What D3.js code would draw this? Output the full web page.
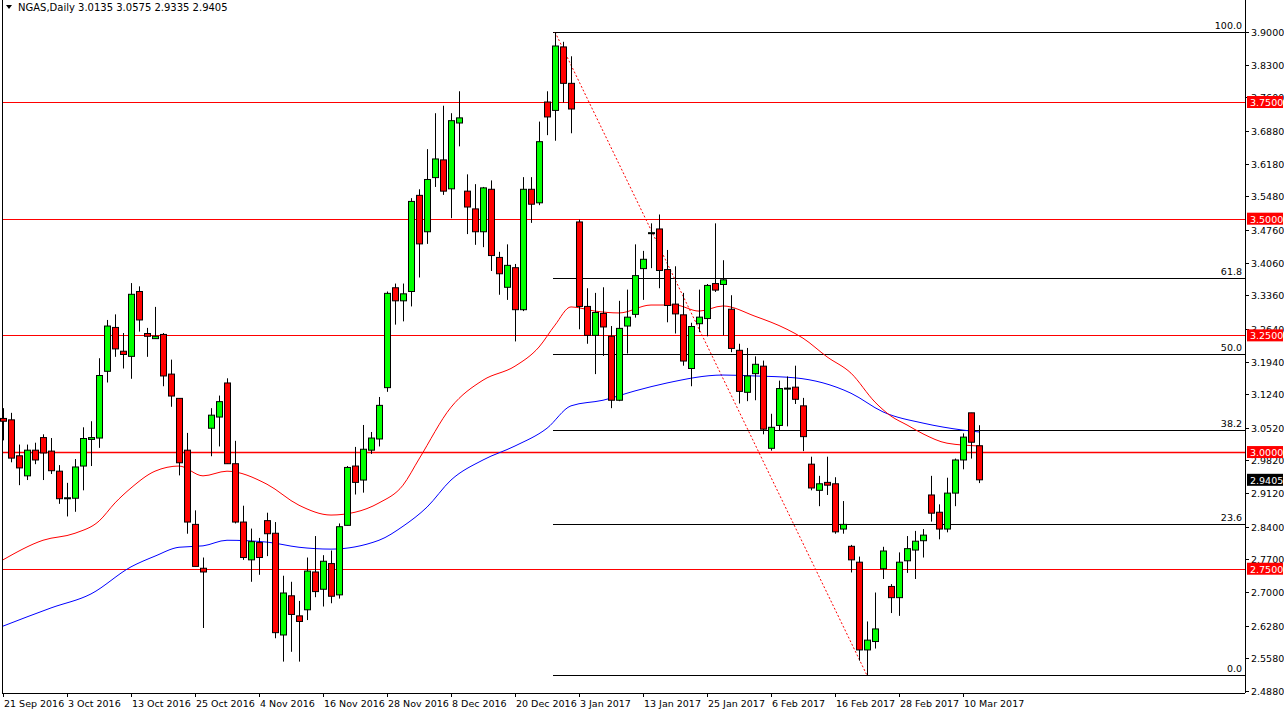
<!DOCTYPE html>
<html>
<head>
<meta charset="utf-8">
<script src="https://cdn.jsdelivr.net/npm/d3@7"></script>
<style>
  body { margin: 0; background: #fff; }
  text { font-family: "DejaVu Sans", sans-serif; }
</style>
</head>
<body>
<svg id="chart" width="1284" height="717"></svg>
<script>
// daily candles NGAS, 21 Sep 2016 .. 14 Mar 2017
var opens = [3.072,3.069,2.992,2.949,3.004,3.031,3.002,2.959,2.901,2.901,2.970,3.027,3.030,3.173,3.267,3.216,3.205,3.344,3.254,3.243,
  3.252,3.167,3.115,3.004,2.845,2.751,3.051,3.075,3.148,2.975,2.850,2.769,2.806,2.853,2.826,2.608,2.692,2.649,2.662,2.743,
  2.706,2.761,2.694,2.843,2.970,2.940,3.004,3.028,3.138,3.352,3.324,3.344,3.550,3.472,3.588,3.626,3.564,3.705,3.559,3.521,
  3.472,3.563,3.417,3.353,3.395,3.305,3.563,3.534,3.750,3.732,3.868,3.790,3.493,3.312,3.250,3.297,3.248,3.111,3.270,3.295,
  3.393,3.469,3.478,3.391,3.317,3.294,3.179,3.275,3.286,3.361,3.359,3.306,3.218,3.128,3.168,3.184,3.008,3.057,3.136,3.139,
  3.099,2.974,2.918,2.935,2.932,2.835,2.798,2.764,2.576,2.594,2.750,2.712,2.688,2.767,2.790,2.810,2.908,2.871,2.835,2.912,
  2.983,3.084,3.0135];
var highs = [3.094,3.084,3.016,3.016,3.020,3.038,3.030,2.972,2.934,2.985,3.053,3.066,3.201,3.283,3.295,3.255,3.362,3.355,3.266,3.311,
  3.255,3.198,3.115,3.041,2.875,2.774,3.094,3.121,3.158,3.024,2.885,2.836,2.816,2.870,2.850,2.735,2.722,2.681,2.774,2.820,
  2.779,2.789,2.847,2.970,3.011,3.058,3.043,3.118,3.344,3.361,3.361,3.544,3.563,3.649,3.726,3.742,3.726,3.773,3.595,3.574,
  3.568,3.582,3.429,3.445,3.403,3.589,3.589,3.708,3.773,3.900,3.879,3.848,3.498,3.351,3.341,3.353,3.270,3.324,3.348,3.445,
  3.431,3.490,3.509,3.433,3.398,3.341,3.277,3.348,3.360,3.490,3.411,3.336,3.232,3.223,3.205,3.196,3.082,3.153,3.162,3.185,
  3.116,2.990,2.949,2.990,2.946,2.895,2.801,2.776,2.637,2.699,2.797,2.717,2.785,2.820,2.831,2.835,2.949,2.888,2.945,2.986,
  3.040,3.084,3.0575];
var lows = [3.025,2.978,2.929,2.940,2.974,2.940,2.953,2.889,2.862,2.872,2.918,2.970,3.009,3.149,3.204,3.179,3.157,3.258,3.204,3.243,
  3.141,3.097,2.950,2.825,2.755,2.623,2.991,3.012,2.975,2.847,2.769,2.722,2.737,2.777,2.601,2.551,2.572,2.551,2.640,2.689,
  2.669,2.676,2.686,2.843,2.909,2.913,2.996,3.012,3.129,3.273,3.280,3.312,3.374,3.446,3.568,3.551,3.501,3.655,3.467,3.444,
  3.439,3.388,3.337,3.326,3.237,3.302,3.491,3.529,3.679,3.667,3.749,3.683,3.263,3.232,3.167,3.206,3.094,3.109,3.211,3.288,
  3.326,3.394,3.351,3.278,3.254,3.185,3.141,3.257,3.248,3.343,3.250,3.214,3.104,3.109,3.111,3.038,3.003,3.045,3.055,3.103,
  3.002,2.918,2.884,2.908,2.825,2.825,2.742,2.553,2.5215,2.579,2.728,2.655,2.649,2.741,2.728,2.774,2.851,2.813,2.828,2.884,
  2.963,2.986,2.9335];
var closes = [3.066,2.987,2.966,3.004,2.983,2.998,2.960,2.900,2.902,2.968,3.029,3.031,3.164,3.270,3.221,3.209,3.338,3.283,3.248,3.248,
  3.163,3.120,2.977,2.850,2.755,2.743,3.079,3.108,2.975,2.850,2.774,2.808,2.774,2.825,2.613,2.698,2.652,2.637,2.745,2.701,
  2.766,2.691,2.840,2.967,2.935,3.006,3.030,3.100,3.340,3.324,3.339,3.537,3.446,3.584,3.628,3.559,3.710,3.716,3.525,3.472,
  3.566,3.421,3.382,3.400,3.305,3.563,3.531,3.665,3.718,3.870,3.790,3.735,3.312,3.250,3.299,3.268,3.111,3.265,3.289,3.378,
  3.413,3.470,3.389,3.314,3.296,3.195,3.269,3.289,3.357,3.347,3.369,3.222,3.130,3.163,3.188,3.049,3.053,3.136,3.137,3.113,
  3.033,2.923,2.932,2.929,2.829,2.845,2.769,2.576,2.597,2.621,2.788,2.688,2.764,2.793,2.809,2.822,2.869,2.835,2.912,2.983,
  3.032,3.021,2.9405];

// moving averages (bar index, value)
var maFastIdx = [0,5,9,12,14,16,19,22,25,28,33,37,41,44,47,50,52,56,60,64,67,69,71,74,77,81,84,87,90,94,98,100,103,106,109,111,113,115,118,122];
var maFast = [2.769,2.811,2.826,2.852,2.891,2.923,2.959,2.970,2.949,2.959,2.931,2.886,2.865,2.871,2.891,2.929,2.985,3.096,3.154,3.184,
  3.225,3.272,3.311,3.302,3.298,3.315,3.315,3.302,3.313,3.291,3.263,3.244,3.204,3.169,3.107,3.077,3.058,3.039,3.019,3.013];
var maSlowIdx = [0,6,11,16,19,22,25,28,33,37,41,47,50,53,56,60,64,68,71,75,79,83,90,94,99,106,110,115,120,122];
var maSlow = [2.627,2.666,2.696,2.754,2.777,2.796,2.799,2.811,2.807,2.796,2.792,2.811,2.841,2.882,2.940,2.983,3.013,3.051,3.099,3.111,
  3.131,3.148,3.165,3.163,3.159,3.126,3.086,3.062,3.047,3.043];

var priceTicks = [3.9000,3.8300,3.7600,3.6880,3.6180,3.5480,3.4760,3.4060,3.3360,3.2640,3.1940,3.1240,3.0520,2.9820,2.9120,2.8400,2.7700,2.7000,2.6280,2.5580,2.4880];
var dateLabels = ["21 Sep 2016","3 Oct 2016","13 Oct 2016","25 Oct 2016","4 Nov 2016","16 Nov 2016","28 Nov 2016","8 Dec 2016",
  "20 Dec 2016","3 Jan 2017","13 Jan 2017","25 Jan 2017","6 Feb 2017","16 Feb 2017","28 Feb 2017","10 Mar 2017"];
var levels = [3.75, 3.5, 3.25, 3.0, 2.75];
var fibLevels = [0, 23.6, 38.2, 50.0, 61.8, 100.0];
var fibHigh = 3.9000, fibLow = 2.5215, fibHighIdx = 69, fibLowIdx = 108;
var lastPrice = 2.9405;

var svg = d3.select("#chart");
var axisX = 1245, bottom = 693;

var x = d3.scaleLinear().domain([0, 122]).range([3, 979]);
var y = d3.scaleLinear().domain([2.4880, 3.9000]).range([691, 32]);

// frame
svg.append("line").attr("x1", 2.5).attr("x2", 2.5).attr("y1", 0).attr("y2", bottom).attr("stroke", "#000");
svg.append("line").attr("x1", axisX + 0.5).attr("x2", axisX + 0.5).attr("y1", 0).attr("y2", bottom).attr("stroke", "#000");
svg.append("line").attr("x1", 2).attr("x2", axisX).attr("y1", bottom + 0.5).attr("y2", bottom + 0.5).attr("stroke", "#000");

// horizontal red levels
svg.selectAll(".lvl").data(levels).enter().append("line")
  .attr("x1", 3).attr("x2", axisX)
  .attr("y1", function(d) { return Math.round(y(d)) + 0.5; })
  .attr("y2", function(d) { return Math.round(y(d)) + 0.5; })
  .attr("stroke", "#ff0000").attr("stroke-width", function(d) { return d == 3.0 ? 1.5 : 1; });

// fibonacci
var fibX0 = x(fibHighIdx) - 2;
svg.selectAll(".fib").data(fibLevels).enter().append("line")
  .attr("x1", fibX0).attr("x2", axisX)
  .attr("y1", function(d) { return Math.round(y(fibLow + (fibHigh - fibLow) * d / 100)) + 0.5; })
  .attr("y2", function(d) { return Math.round(y(fibLow + (fibHigh - fibLow) * d / 100)) + 0.5; })
  .attr("stroke", "#000");
svg.selectAll(".fibt").data(fibLevels).enter().append("text")
  .attr("x", axisX - 3)
  .attr("y", function(d) { return y(fibLow + (fibHigh - fibLow) * d / 100) - 3; })
  .attr("text-anchor", "end").attr("font-size", 9.5)
  .text(function(d) { return d.toFixed(1); });
svg.append("line")
  .attr("x1", x(fibHighIdx)).attr("y1", y(fibHigh))
  .attr("x2", x(fibLowIdx)).attr("y2", y(fibLow))
  .attr("stroke", "#ff0000").attr("stroke-dasharray", "2,2");

// moving averages
var line = d3.line().x(function(d) { return x(d[0]); }).y(function(d) { return y(d[1]); }).curve(d3.curveMonotoneX);
svg.append("path").attr("d", line(maSlowIdx.map(function(d, i) { return [d, maSlow[i]]; })))
  .attr("fill", "none").attr("stroke", "#0000ff");
svg.append("path").attr("d", line(maFastIdx.map(function(d, i) { return [d, maFast[i]]; })))
  .attr("fill", "none").attr("stroke", "#ff0000");

// candles
var bars = d3.range(opens.length);
var g = svg.append("g");
g.selectAll(".wick").data(bars).enter().append("line")
  .attr("x1", function(i) { return Math.round(x(i)) + 0.5; })
  .attr("x2", function(i) { return Math.round(x(i)) + 0.5; })
  .attr("y1", function(i) { return y(highs[i]); })
  .attr("y2", function(i) { return y(lows[i]); })
  .attr("stroke", "#000");
g.selectAll(".body").data(bars).enter().append("rect")
  .attr("x", function(i) { return Math.round(x(i)) - 2.5; })
  .attr("width", 6)
  .attr("y", function(i) { return y(Math.max(opens[i], closes[i])); })
  .attr("height", function(i) { return Math.max(1, Math.abs(y(opens[i]) - y(closes[i]))); })
  .attr("fill", function(i) { return closes[i] >= opens[i] ? "#00ff00" : "#ff0000"; })
  .attr("stroke", "#000");

// price axis
svg.selectAll(".pt").data(priceTicks).enter().append("line")
  .attr("x1", axisX).attr("x2", axisX + 4)
  .attr("y1", function(d) { return Math.round(y(d)) + 0.5; })
  .attr("y2", function(d) { return Math.round(y(d)) + 0.5; })
  .attr("stroke", "#000");
svg.selectAll(".ptl").data(priceTicks).enter().append("text")
  .attr("x", 1251).attr("y", function(d) { return y(d) + 4; })
  .attr("font-size", 9.5).text(function(d) { return d.toFixed(4); });

// level tags
function tag(v, color) {
  svg.append("rect").attr("x", 1247).attr("y", y(v) - 6).attr("width", 36).attr("height", 12).attr("fill", color);
  svg.append("text").attr("x", 1250).attr("y", y(v) + 4).attr("font-size", 9.5).attr("fill", "#fff").text(v.toFixed(4));
}
levels.forEach(function(v) { tag(v, "#ff0000"); });
tag(lastPrice, "#000");

// date axis
svg.selectAll(".dt").data(dateLabels).enter().append("line")
  .attr("x1", function(d, i) { return x(i * 8) + 0.5; })
  .attr("x2", function(d, i) { return x(i * 8) + 0.5; })
  .attr("y1", bottom).attr("y2", bottom + 4).attr("stroke", "#000");
svg.selectAll(".dtl").data(dateLabels).enter().append("text")
  .attr("x", function(d, i) { return x(i * 8) + 1; })
  .attr("y", 707).attr("font-size", 9.5).text(function(d) { return d; });

// header
svg.append("path").attr("d", "M6,5 L12,5 L9,9 Z").attr("fill", "#000");
svg.append("text").attr("x", 18).attr("y", 11).attr("font-size", 10)
  .text("NGAS,Daily  3.0135 3.0575 2.9335 2.9405");
</script>
</body>
</html>
